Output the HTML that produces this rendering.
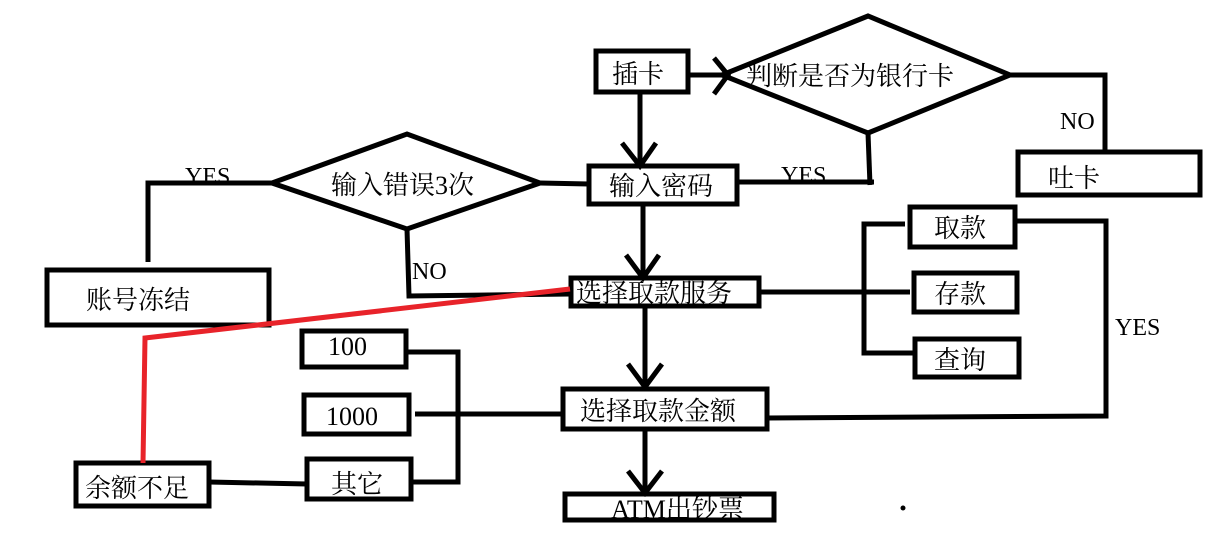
<!DOCTYPE html>
<html><head><meta charset="utf-8"><style>
html,body{margin:0;padding:0;background:#fff;width:1222px;height:550px;overflow:hidden}
svg text{font-family:"Liberation Serif","Noto Serif CJK SC",serif;fill:#000}
</style></head><body>
<svg width="1222" height="550" viewBox="0 0 1222 550" xmlns="http://www.w3.org/2000/svg">
<g fill="none" stroke="#000" stroke-width="5" stroke-linejoin="miter">
<rect x="596" y="51" width="92" height="41"/>
<rect x="1018" y="152" width="182" height="43"/>
<rect x="589" y="166" width="148" height="38"/>
<rect x="47" y="270" width="222" height="55"/>
<rect x="571" y="278" width="188" height="28"/>
<rect x="910" y="207" width="105" height="40"/>
<rect x="914" y="273" width="103" height="39"/>
<rect x="915" y="339" width="104" height="38"/>
<rect x="302" y="331" width="104" height="36"/>
<rect x="304" y="395" width="105" height="39"/>
<rect x="307" y="459" width="104" height="40"/>
<rect x="76" y="463" width="133" height="43"/>
<rect x="563" y="389" width="204" height="40"/>
<rect x="565" y="494" width="209" height="26"/>
<polygon points="722,75 868,16 1010,75 868,133"/>
<polygon points="272,183 407,134 540,183 407,229"/>
<polyline points="688,75 728,75"/>
<polyline points="714,58 728,75 714,94"/>
<polyline points="1010,75 1105,75 1105,152"/>
<polyline points="640,92 640,166"/>
<polyline points="622,143 640,166 656,143"/>
<polyline points="737,182 874,182"/>
<polyline points="868,133 870,185"/>
<polyline points="540,183 589,184"/>
<polyline points="272,183 148,183 148,262"/>
<polyline points="407,229 409,296 571,294"/>
<polyline points="643,204 643,278"/>
<polyline points="626,255 643,278 659,255"/>
<polyline points="759,292 910,292"/>
<polyline points="905,224 864,224 864,353 915,353"/>
<polyline points="1015,221 1106,221 1106,416 767,418"/>
<polyline points="645,306 645,389"/>
<polyline points="628,364 645,387 662,364"/>
<polyline points="406,352 458,352 458,482 411,482"/>
<polyline points="415,414 563,414"/>
<polyline points="209,482 307,484"/>
<polyline points="645,429 645,494"/>
<polyline points="628,471 645,493 662,471"/>
</g>
<g fill="none" stroke="#e8232a" stroke-width="5">
<polyline points="570,289 145,338 143,463"/>
</g>
<circle cx="903" cy="508" r="2.5" fill="#000"/>
<g font-size="26">
<text x="612" y="83">插卡</text>
<text x="746" y="85">判断是否为银行卡</text>
<text x="1048" y="187">吐卡</text>
<text x="609" y="195">输入密码</text>
<text x="331" y="194">输入错误3次</text>
<text x="86" y="309">账号冻结</text>
<text x="576" y="302">选择取款服务</text>
<text x="934" y="237">取款</text>
<text x="934" y="303">存款</text>
<text x="934" y="369">查询</text>
<text x="580" y="420">选择取款金额</text>
<text x="328" y="355">100</text>
<text x="326" y="425">1000</text>
<text x="331" y="493">其它</text>
<text x="85" y="497">余额不足</text>
<text x="611" y="518">ATM出钞票</text>
</g>
<g font-size="24">
<text x="185" y="184">YES</text>
<text x="781" y="183">YES</text>
<text x="1060" y="129">NO</text>
<text x="412" y="279">NO</text>
<text x="1115" y="335">YES</text>
</g>
</svg>
</body></html>
